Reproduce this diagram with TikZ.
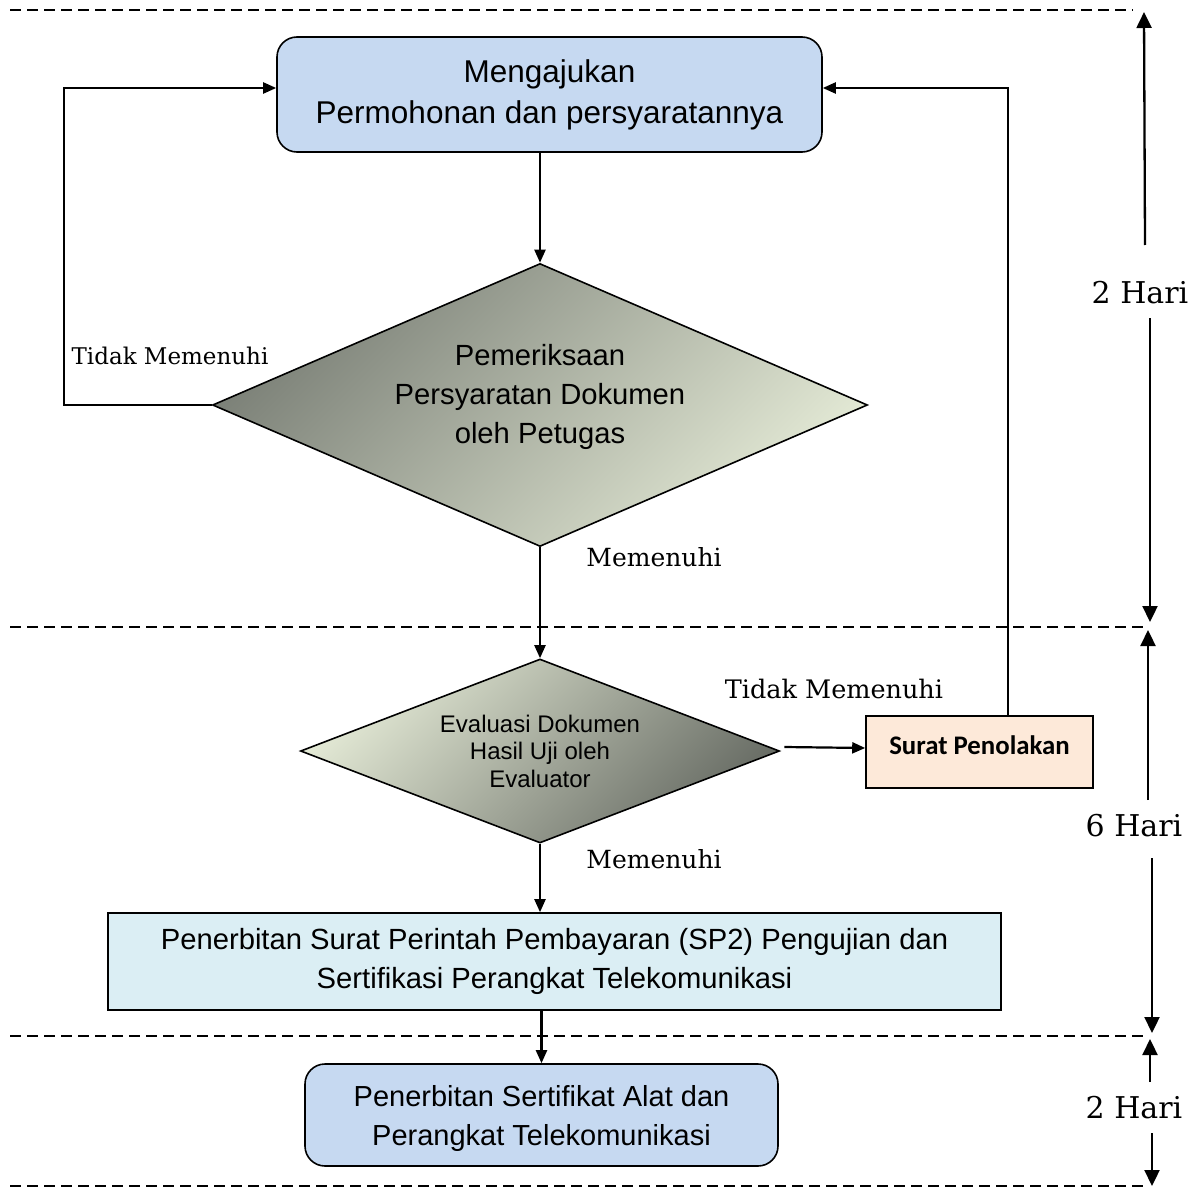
\documentclass[tikz,border=0pt]{standalone}
\usepackage{fontspec}
\setmainfont{DejaVu Serif}
\newfontfamily\arialf{Liberation Sans}
\newfontfamily\calibrif{Carlito}
\usetikzlibrary{shapes.geometric,arrows.meta}
\definecolor{boxblue}{HTML}{C6D9F1}
\definecolor{boxcyan}{HTML}{DBEEF4}
\definecolor{boxpeach}{HTML}{FDE9D9}
\definecolor{dkgreen}{HTML}{7B8077}
\definecolor{ltgreen}{HTML}{E3E9D5}
\tikzset{
  flow/.style={line width=2.2pt,-{Triangle[length=13pt,width=11pt]}},
  tarr/.style={line width=2.3pt,-{Triangle[length=16pt,width=15pt]}},
  dline/.style={line width=1.5pt,dash pattern=on 11pt off 6pt},
  hari/.style={font={\fontsize{30}{33}\selectfont}},
}
\begin{document}
\begin{tikzpicture}[x=1pt,y=-1pt]
\useasboundingbox (0,0) rectangle (1194,1188);
% dashed separators
\draw[dline] (10,10) -- (1133,10);
\draw[dline] (10,627) -- (1147,627);
\draw[dline] (10,1036) -- (1147,1036);
\draw[dline] (10,1186) -- (1147,1186);

% nodes
\node[draw,line width=1.6pt,fill=boxblue,rounded corners=20pt,minimum width=545pt,minimum height=115pt,align=center,
  font={\arialf\fontsize{31.5}{41}\selectfont}] (b1) at (549.5,94.5) {Mengajukan\\Permohonan dan persyaratannya};

\node[diamond,draw,line width=1.6pt,minimum width=655pt,minimum height=283pt,aspect=2.31,inner sep=0pt,
  top color=dkgreen,bottom color=ltgreen,shading angle=45,
  label={[align=center,yshift=8pt,font={\arialf\fontsize{29.2}{39}\selectfont}]center:Pemeriksaan\\Persyaratan Dokumen\\oleh Petugas}] (d1) at (540,405) {};

\node[diamond,draw,line width=1.6pt,minimum width=479pt,minimum height=184pt,aspect=2.6,inner sep=0pt,
  top color=ltgreen,bottom color=dkgreen!85!black,shading angle=45,align=center,
  font={\arialf\fontsize{24}{27.5}\selectfont}] (d2) at (540,751) {Evaluasi Dokumen\\Hasil Uji oleh\\Evaluator};

\node[draw,line width=1.6pt,fill=boxpeach,minimum width=227pt,minimum height=72pt,
  label={[yshift=7pt,font={\calibrif\bfseries\fontsize{26.8}{30}\selectfont}]center:Surat Penolakan}] (sp) at (979.5,752) {};

\node[draw,line width=1.6pt,fill=boxcyan,minimum width=893pt,minimum height=97pt,align=center,
  font={\arialf\fontsize{29.2}{39}\selectfont}] (b2) at (554.5,961.5) {Penerbitan Surat Perintah Pembayaran (SP2) Pengujian dan\\Sertifikasi Perangkat Telekomunikasi};

\node[draw,line width=1.6pt,fill=boxblue,rounded corners=20pt,minimum width=473pt,minimum height=102pt,
  label={[align=center,yshift=-3pt,font={\arialf\fontsize{29}{39}\selectfont}]center:Penerbitan Sertifikat Alat dan\\Perangkat Telekomunikasi}] (b3) at (541.5,1115) {};

% labels
\node[font={\fontsize{23}{26}\selectfont}] (l1) at (170,356) {Tidak Memenuhi};
\node[font={\fontsize{25}{28}\selectfont}] (l2) at (654,557) {Memenuhi};
\node[font={\fontsize{25.5}{28}\selectfont}] (l3) at (834,689) {Tidak Memenuhi};
\node[font={\fontsize{25}{28}\selectfont}] (l4) at (654,859) {Memenuhi};

% flow connectors
\draw[flow] (b1.south -| d1.north) -- (d1.north);
\draw[flow] (d1.south) -- (d2.north);
\draw[flow] ([xshift=4pt,yshift=4pt]d2.east) -- ([yshift=4pt]sp.west);
\draw[flow] (d2.south) -- (d2.south |- b2.north);
\draw[flow] (b2.south -| b3.north) -- (b3.north);
\coordinate (lx) at (64,403);
\draw[flow] (d1.west) -- (d1.west -| lx) |- ([yshift=6.5pt]b1.west);
\draw[flow] ([xshift=28.5pt]sp.north) |- ([yshift=6.5pt]b1.east);

% time axis
\node[hari] (h1) at (1140,293) {2 Hari};
\node[hari] (h2) at (1134,826) {6 Hari};
\node[hari] (h3) at (1134,1108) {2 Hari};
\coordinate (t1a) at (1145,245); \coordinate (t1b) at (1144,12);
\coordinate (t2a) at (1150,318); \coordinate (t2b) at (1150,622);
\coordinate (t3a) at (1148,800); \coordinate (t3b) at (1148,630);
\coordinate (t4a) at (1152,858); \coordinate (t4b) at (1152,1033);
\coordinate (t5a) at (1150,1082); \coordinate (t5b) at (1150,1039);
\coordinate (t6a) at (1152,1133); \coordinate (t6b) at (1152,1186);
\draw[tarr] (t1a) -- (t1b);
\draw[tarr] (t2a) -- (t2b);
\draw[tarr] (t3a) -- (t3b);
\draw[tarr] (t4a) -- (t4b);
\draw[tarr] (t5a) -- (t5b);
\draw[tarr] (t6a) -- (t6b);
\end{tikzpicture}
\end{document}
